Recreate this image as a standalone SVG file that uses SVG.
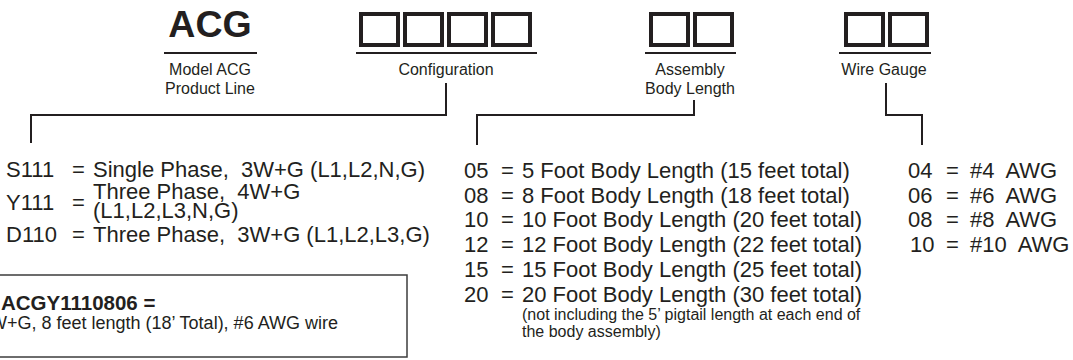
<svg xmlns="http://www.w3.org/2000/svg" width="1073" height="360" viewBox="0 0 1073 360">
  <style>
    text { font-family: "Liberation Sans", Arial, Helvetica, sans-serif; fill: #231f20; }
    .title { font-size: 37.5px; font-weight: bold; text-anchor: middle; }
    .lbl { font-size: 16px; text-anchor: middle; }
    .row { font-size: 22px; }
    .note { font-size: 16px; }
    .slot { fill: none; stroke: #231f20; stroke-width: 4; }
    .rule { stroke: #231f20; stroke-width: 2; fill: none; }
    .conn { stroke: #231f20; stroke-width: 2; fill: none; stroke-linejoin: miter; }
    .ex-bold { font-size: 20.5px; font-weight: bold; }
    .ex { font-size: 18px; }
  </style>

  <g id="node-model">
    <text class="title" x="210" y="37">ACG</text>
    <line class="rule" x1="164" y1="53" x2="257" y2="53"/>
    <text class="lbl" x="210" y="75">Model ACG</text>
    <text class="lbl" x="210" y="94">Product Line</text>
  </g>

  <g id="node-configuration">
    <rect class="slot" x="361" y="14" width="37" height="31"/>
    <rect class="slot" x="405" y="14" width="37" height="31"/>
    <rect class="slot" x="449" y="14" width="37" height="31"/>
    <rect class="slot" x="493" y="14" width="37" height="31"/>
    <line class="rule" x1="356" y1="53" x2="537" y2="53"/>
    <text class="lbl" x="446" y="75">Configuration</text>
  </g>

  <g id="node-assembly">
    <rect class="slot" x="651" y="14" width="37" height="31"/>
    <rect class="slot" x="695" y="14" width="37" height="31"/>
    <line class="rule" x1="645" y1="53" x2="736" y2="53"/>
    <text class="lbl" x="690" y="75">Assembly</text>
    <text class="lbl" x="690" y="94">Body Length</text>
  </g>

  <g id="node-wire">
    <rect class="slot" x="846" y="14" width="37" height="31"/>
    <rect class="slot" x="890" y="14" width="37" height="31"/>
    <line class="rule" x1="839" y1="53" x2="931" y2="53"/>
    <text class="lbl" x="884" y="75">Wire Gauge</text>
  </g>

  <g id="connectors">
    <path class="conn" d="M446,83 V115 H31 V143"/>
    <path class="conn" d="M694,100 V115 H477 V145"/>
    <path class="conn" d="M886,83 V115 H922 V145"/>
  </g>

  <g id="list-configuration">
    <text class="row" x="6" y="177">S111</text>
    <text class="row" x="72" y="177">=</text>
    <text class="row" x="93" y="177">Single Phase,&#160; 3W+G (L1,L2,N,G)</text>
    <text class="row" x="6" y="210">Y111</text>
    <text class="row" x="72" y="210">=</text>
    <text class="row"><tspan x="93" y="199">Three Phase,&#160; 4W+G</tspan><tspan x="93" y="218">(L1,L2,L3,N,G)</tspan></text>
    <text class="row" x="6" y="242">D110</text>
    <text class="row" x="72" y="242">=</text>
    <text class="row" x="93" y="242">Three Phase,&#160; 3W+G (L1,L2,L3,G)</text>
  </g>

  <g id="list-length">
    <text class="row" x="464" y="178">05</text>
    <text class="row" x="501" y="178">=</text>
    <text class="row" x="522" y="178">5 Foot Body Length (15 feet total)</text>
    <text class="row" x="464" y="203">08</text>
    <text class="row" x="501" y="203">=</text>
    <text class="row" x="522" y="203">8 Foot Body Length (18 feet total)</text>
    <text class="row" x="464" y="227">10</text>
    <text class="row" x="501" y="227">=</text>
    <text class="row" x="522" y="227">10 Foot Body Length (20 feet total)</text>
    <text class="row" x="464" y="252">12</text>
    <text class="row" x="501" y="252">=</text>
    <text class="row" x="522" y="252">12 Foot Body Length (22 feet total)</text>
    <text class="row" x="464" y="277">15</text>
    <text class="row" x="501" y="277">=</text>
    <text class="row" x="522" y="277">15 Foot Body Length (25 feet total)</text>
    <text class="row" x="464" y="302">20</text>
    <text class="row" x="501" y="302">=</text>
    <text class="row" x="522" y="302">20 Foot Body Length (30 feet total)</text>
    <text class="note"><tspan x="522" y="320">(not including the 5’ pigtail length at each end of</tspan><tspan x="522" y="337">the body assembly)</tspan></text>
  </g>

  <g id="list-wire">
    <text class="row" x="908" y="178">04</text>
    <text class="row" x="946" y="178">=</text>
    <text class="row" x="970" y="178">#4&#160; AWG</text>
    <text class="row" x="908" y="203">06</text>
    <text class="row" x="946" y="203">=</text>
    <text class="row" x="970" y="203">#6&#160; AWG</text>
    <text class="row" x="908" y="227">08</text>
    <text class="row" x="946" y="227">=</text>
    <text class="row" x="970" y="227">#8&#160; AWG</text>
    <text class="row" x="910" y="252">10</text>
    <text class="row" x="946" y="252">=</text>
    <text class="row" x="970" y="252">#10&#160; AWG</text>
  </g>

  <g id="example-box">
    <rect x="-20" y="275" width="427" height="82" fill="none" stroke="#3c3c3c" stroke-width="1.5"/>
    <text class="ex-bold" x="1" y="310">ACGY1110806 =</text>
    <text class="ex" x="-10" y="329">W+G, 8 feet length (18’ Total), #6 AWG wire</text>
  </g>
</svg>
